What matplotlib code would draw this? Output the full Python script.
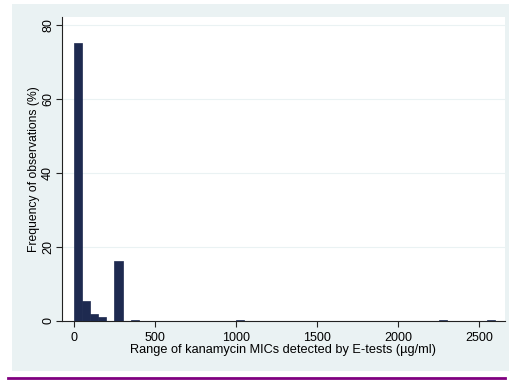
import matplotlib
matplotlib.use("Agg")
import matplotlib.pyplot as plt
from matplotlib.patches import Rectangle
from matplotlib.lines import Line2D

# histogram bins (left edge, µg/ml) and percentage of observations
bin_left = [0, 50, 100, 150, 250, 350, 1000, 2250, 2550]
bin_width = 50
freq_pct = [75.3, 5.3, 2.0, 1.1, 16.3, 0.25, 0.25, 0.25, 0.25]

x_ticks = [0, 500, 1000, 1500, 2000, 2500]
y_ticks = [0, 20, 40, 60, 80]

plt.rcParams['font.family'] = ['Liberation Sans', 'DejaVu Sans']

fig = plt.figure(figsize=(5.1, 3.83), dpi=100)
fig.patch.set_facecolor('white')

# stata-style outer panel and purple rule under it
fig.patches.append(Rectangle((12 / 510, 12 / 383), 497 / 510, 367 / 383,
                             transform=fig.transFigure, facecolor='#eaf2f3',
                             edgecolor='none', zorder=-10))
fig.lines.append(Line2D([8 / 510, 505 / 510], [5 / 383, 5 / 383],
                        transform=fig.transFigure, color='#800080', lw=2,
                        zorder=-10))

ax = fig.add_axes([62 / 510, 62 / 383, 443 / 510, 304 / 383])
ax.set_facecolor('white')
ax.bar(bin_left, freq_pct, width=bin_width, align='edge',
       color='#1e2a50', edgecolor='#1e2a50', linewidth=0.5, zorder=3)

ax.set_xlim(-74, 2660)
ax.set_ylim(0, 82.2)
ax.set_xticks(x_ticks)
ax.set_yticks(y_ticks)
ax.set_yticklabels([str(v) for v in y_ticks], rotation=90, va='center')
ax.tick_params(labelsize=9, length=4.2, width=0.8, color='#222222')
ax.tick_params(axis='y', pad=1.5)
ax.tick_params(axis='x', pad=4)
ax.grid(axis='y', color='#eaf2f3', lw=0.8, zorder=0)
ax.set_axisbelow(True)

for side in ['top', 'right']:
    ax.spines[side].set_visible(False)
for side in ['left', 'bottom']:
    ax.spines[side].set_color('#222222')
    ax.spines[side].set_linewidth(0.8)

ax.set_ylabel('Frequency of observations (%)', fontsize=8.7, labelpad=1.5)
ax.set_xlabel('Range of kanamycin MICs detected by E-tests (µg/ml)',
              fontsize=9.2, labelpad=0)

fig.savefig('out.png', dpi=100, facecolor='white')
